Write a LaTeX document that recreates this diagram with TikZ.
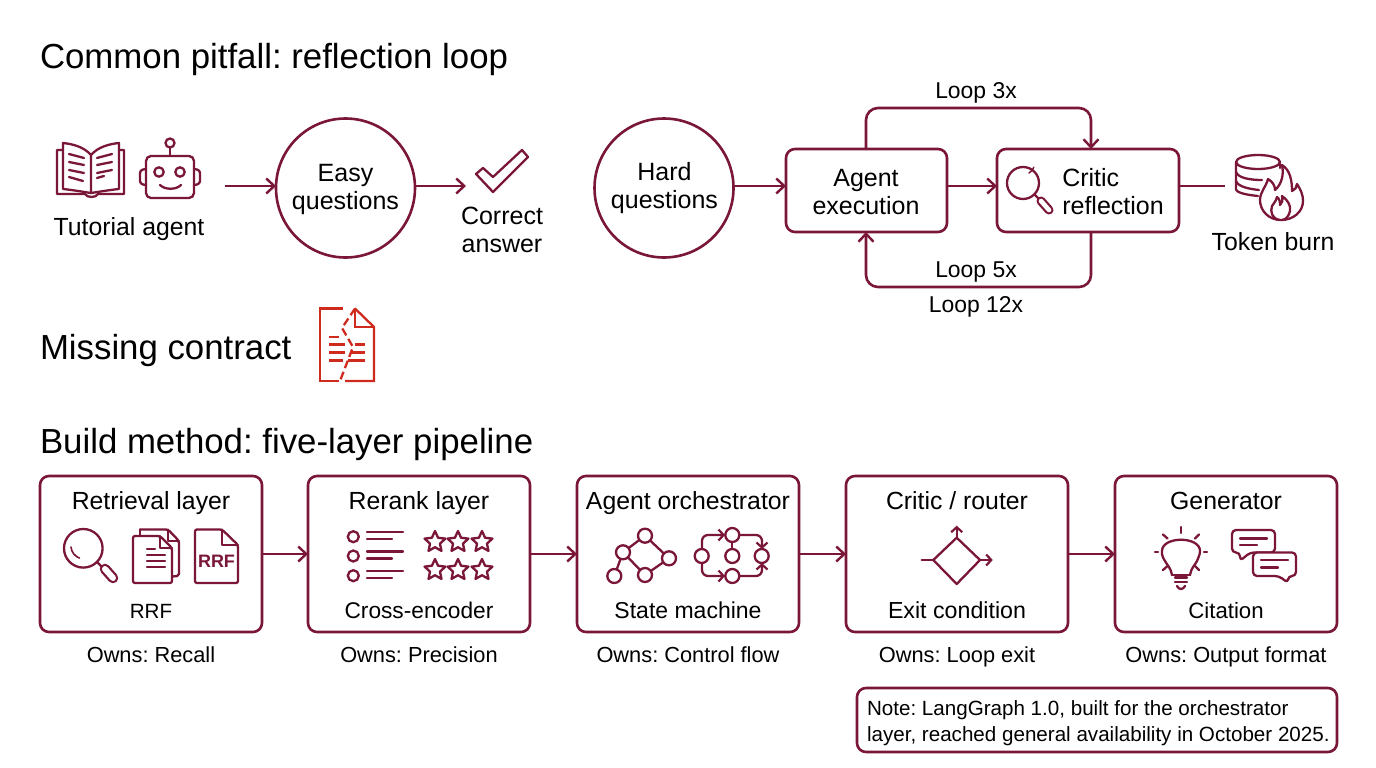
\documentclass[tikz,border=0pt]{standalone}
\usepackage{fontspec}
\setmainfont{Liberation Sans}
\usetikzlibrary{arrows.meta,shapes.geometric}
\definecolor{wine}{HTML}{7A1637}
\definecolor{tear}{HTML}{CF2A1E}
\newcommand{\fsz}[1]{\fontsize{#1}{#1}\selectfont}
\frenchspacing
\tikzset{
  every picture/.style={line join=round},
  ttl/.style={anchor=base west,inner sep=0pt,outer sep=0pt,font=\fsz{34.8}},
  lbl/.style={anchor=base,inner sep=0pt,outer sep=0pt,font=\fsz{24.8},text=black},
  lbltwo/.style={anchor=center,inner sep=0pt,outer sep=0pt,align=center,font=\fsz{25},text=black},
  own/.style={anchor=base,inner sep=0pt,outer sep=0pt,font=\fsz{21.8},text=black},
  circ/.style={circle,draw=wine,line width=2.6pt,minimum size=139pt,inner sep=0pt,outer sep=0pt},
  rbox/.style={rectangle,rounded corners=9pt,draw=wine,line width=2.6pt,inner sep=0pt,outer sep=0pt,anchor=north west},
  conn/.style={draw=wine,line width=2.6pt,-{Straight Barb[length=8pt,width=15pt,line width=2.4pt]}},
  plain/.style={draw=wine,line width=2.6pt},
  ico/.style={draw=wine,line width=2.3pt,line cap=round,line join=round},
  icop/.style={ico,fill=white},
  redi/.style={draw=tear,line width=2.3pt,line cap=butt,line join=miter},
  smallarrow/.style={ico,-{Straight Barb[length=5pt,width=11pt,line width=2.2pt]}},
}
\begin{document}
\begin{tikzpicture}[x=1pt,y=-1pt]
\useasboundingbox (0,0) rectangle (1376,768);
\fill[white] (0,0) rectangle (1376,768);

% titles
\node[ttl] (t1) at (40,68) {Common pitfall: reflection loop};
\node[ttl] (t2) at (40,359) {Missing contract};
\node[ttl] (t3) at (40,453) {Build method: five-layer pipeline};

% top row
\coordinate (tutout) at (225,186);
\node[lbl] (tut) at (129,235) {Tutorial agent};
\node[circ] (easy) at (345.5,188) {};
\node[lbltwo] (easyt) at (345.5,189) {Easy\\[3pt]questions};
\coordinate (chk) at (466,186);
\node[lbltwo] (corr) at (502,230) {Correct\\[3pt]answer};
\node[circ] (hard) at (664,188) {};
\node[lbltwo] (hardt) at (664.5,188) {Hard\\[3pt]questions};
\node[rbox,minimum width=161pt,minimum height=83pt] (agent) at (786,149) {};
\node[lbltwo] (agentt) at (866,192) {Agent\\[3pt]execution};
\node[rbox,minimum width=182pt,minimum height=83pt] (critic) at (997,149) {};
\node[lbltwo,align=left] (critict) at (1113,192) {Critic\\[3pt]reflection};
\coordinate (burn) at (1225,186);
\node[lbl] (tok) at (1273,250) {Token burn};
\node[lbl,font=\fsz{22.9}] (l3) at (976,99) {Loop 3x};
\node[lbl,font=\fsz{22.9}] (l5) at (976,277) {Loop 5x};
\node[lbl,font=\fsz{22.9}] (l12) at (976,312) {Loop 12x};

\draw[conn] (tutout) -- (easy.west |- tutout);
\draw[conn] (easy.east |- chk) -- (chk);
\draw[conn] (hard.east |- burn) -- (agent.west |- burn);
\draw[conn] (agent.east |- burn) -- (critic.west |- burn);
\draw[plain] (critic.east |- burn) -- (burn);
\coordinate (ta) at (866,149); \coordinate (tc) at (1091,149);
\coordinate (ba) at (866,232); \coordinate (bc) at (1091,232);
\draw[conn,rounded corners=12pt] (ta) -- (866,108) -- (1091,108) -- (tc);
\draw[conn,rounded corners=12pt] (bc) -- (1091,287) -- (866,287) -- (ba);

% book
\begin{scope}[ico]
\draw (63,150) -- (57,150) -- (57,194) -- (85,194) .. controls (87,198) and (96,198) .. (98,194) -- (124,194) -- (124,150) -- (119,150);
\draw (91,155) .. controls (84,147) and (73,144) .. (63,143) -- (63,189) .. controls (73,190) and (84,192) .. (91,193) .. controls (98,192) and (109,190) .. (119,189) -- (119,143) .. controls (109,144) and (98,147) .. (91,155) -- (91,193);
\draw (69,154) -- (84,158); \draw (69,162) -- (84,165); \draw (69,170) -- (84,173); \draw (69,177) -- (83,181);
\draw (112,154) -- (97,158); \draw (112,162) -- (97,165); \draw (112,170) -- (97,173); \draw (104,176) -- (97,178);
\draw[rounded corners=5pt] (146,156) rectangle (194,198);
\draw[rounded corners=3pt] (146,169) -- (140,170) -- (140,184) -- (146,185);
\draw[rounded corners=3pt] (194,169) -- (200,170) -- (200,184) -- (194,185);
\draw (170,143) circle (4.5);
\draw (170,147.5) -- (170,156);
\draw (159,172) circle (4.7); \draw (180,172) circle (4.7);
\draw (160,185) .. controls (165,190) and (176,190) .. (181,185);
\end{scope}
% check
\draw[ico] (476,174) -- (483,168) -- (493,177) -- (522,150) -- (528,157) -- (493,192) -- cycle;
% critic magnifier
\draw[ico] (1023,183) circle (16);
\draw[ico,line width=1.5pt] (1029,173) arc[start angle=60,end angle=20,radius=11];
\draw[ico] (1034.5,194.5) -- (1039,199);
\draw[wine,line width=9pt,line cap=round] (1041,201) -- (1049,210);
\draw[white,line width=4.6pt,line cap=round] (1041,201) -- (1049,210);
% database & flame
\begin{scope}[ico]
\draw (1258,162) ellipse (22 and 7);
\draw (1236,162) -- (1236,189) .. controls (1236,193) and (1248,195) .. (1258,196);
\draw (1236,172) .. controls (1238,178) and (1250,180) .. (1262,180);
\draw (1236,181) .. controls (1238,187) and (1250,189) .. (1259,190);
\draw (1280,162) -- (1280,168);
\draw[fill=white] (1281,220) .. controls (1269,220) and (1260,211) .. (1260,200) .. controls (1260,192) and (1266,187) .. (1268,179) .. controls (1273,182) and (1275,186) .. (1275,190) .. controls (1282,184) and (1284,174) .. (1282,165) .. controls (1290,170) and (1292,180) .. (1292,191) .. controls (1295,190) and (1297,187) .. (1297,184) .. controls (1301,190) and (1303,195) .. (1303,201) .. controls (1303,212) and (1293,220) .. (1281,220) -- cycle;
\draw (1279,220) .. controls (1272,218) and (1270,212) .. (1272,206) .. controls (1274,203) and (1276,201) .. (1277,197) .. controls (1280,199) and (1280,203) .. (1280,205) .. controls (1282,203) and (1283,201) .. (1282,196) .. controls (1288,200) and (1291,206) .. (1290,211) .. controls (1289,216) and (1286,219) .. (1283,220);
\end{scope}
% torn document
\begin{scope}[redi]
\draw (343,308.5) -- (320,308.5) -- (320,381) -- (339,381);
\draw (355,308.5) -- (374,327) -- (374,381) -- (345,381);
\draw (355,308.5) -- (355,327) -- (374,327);
\draw[dash pattern=on 8pt off 4pt] (355,308.5) -- (342,328) -- (353,347) -- (340,381);
\draw (329,337) -- (339,337);
\draw (329,344.5) -- (345,344.5); \draw (355,344.5) -- (365,344.5);
\draw (329,352.5) -- (345,352.5); \draw (350,352.5) -- (365,352.5);
\draw (329,360.5) -- (343,360.5); \draw (348,360.5) -- (365,360.5);
\end{scope}

% pipeline
\foreach \n/\x/\a/\b/\c/\s in {
  p1/40/Retrieval layer/RRF/Recall/20.6,
  p2/308/Rerank layer/Cross-encoder/Precision/22.7,
  p3/577/Agent orchestrator/State machine/Control flow/23,
  p4/846/Critic \slash{} router/Exit condition/Loop exit/23.2,
  p5/1115/Generator/Citation/Output format/22.2}{
  \node[rbox,minimum width=222pt,minimum height=156pt] (\n) at (\x,476) {};
  \node[lbl] (\n a) at (\x+111,509) {\a};
  \node[lbl,font=\fsz{\s}] (\n b) at (\x+111,618) {\b};
  \node[own] (\n c) at (\x+111,662) {Owns: \c};
}
\draw[conn] (p1.east) -- (p2.west);
\draw[conn] (p2.east) -- (p3.west);
\draw[conn] (p3.east) -- (p4.west);
\draw[conn] (p4.east) -- (p5.west);

% retrieval icons
\begin{scope}[ico]
\draw (83.3,548.3) circle (19.3);
\draw[line width=1.6pt] (71,547) arc[start angle=175,end angle=110,radius=13];
\draw (97,562) -- (103,568);
\end{scope}
\draw[wine,line width=10.5pt,line cap=round] (105,569) -- (113,578);
\draw[white,line width=6pt,line cap=round] (105,569) -- (113,578);
\begin{scope}[ico]
\draw[rounded corners=2pt] (140,529.5) -- (168,529.5) -- (179,541) -- (179,576) -- (172,576.5);
\draw[icop,rounded corners=2pt] (133,536) -- (160,536) -- (172,548) -- (172,583) -- (133,583) -- cycle;
\draw (140,536) -- (140,529.5);
\draw (160,536) -- (160,548) -- (172,548);
\draw (168,529.5) -- (168,541) -- (179,541);
\draw (147,549) -- (155,549); \draw (147,555) -- (165,555); \draw (147,561) -- (165,561); \draw (147,567) -- (165,567);
\draw[rounded corners=2pt] (195,529.5) -- (222,529.5) -- (238,545) -- (238,583) -- (195,583) -- cycle;
\draw (222,529.5) -- (222,545) -- (238,545);
\end{scope}
\node[inner sep=0pt,text=wine,font=\fsz{18}\bfseries] (rrf) at (216.5,561.5) {RRF};

% rerank icons
\begin{scope}[ico]
\foreach \y in {536.7,556,575.7}{
  \draw (353.3,\y) circle (5.5);
  \draw (367,\y-4.5) -- (403,\y-4.5);
  \draw (367,\y+2.5) -- (392,\y+2.5);
}
\foreach \y in {542,570}{\foreach \x in {435,458,482}{
  \node[star,star points=5,star point ratio=2.1,draw=wine,line width=2.3pt,minimum size=22pt,inner sep=0pt] at (\x,\y) {};
}}
\end{scope}

% orchestrator icons
\begin{scope}[ico]
\draw (645,535.7) -- (623,552.3);
\draw (623,552.3) -- (645,575);
\draw (645,535.7) -- (669,558.3);
\draw (669,558.3) -- (645,575);
\draw (623,552.3) -- (614.3,576);
\foreach \x/\y in {645/535.7,623/552.3,669/558.3,645/575,614.3/576}{\draw[icop] (\x,\y) circle (7);}
\draw[smallarrow,rounded corners=6pt] (702,549) -- (702,535) -- (725,535);
\draw[smallarrow,rounded corners=6pt] (702,563) -- (702,576) -- (725,576);
\draw[smallarrow,rounded corners=6pt] (739,535) -- (762,535) -- (762,549);
\draw[smallarrow,rounded corners=6pt] (739,576) -- (762,576) -- (762,563);
\draw (732,542) -- (732,549);
\foreach \x/\y in {701.7/556,732.3/535,732.3/556,732.3/576,761.7/556}{\draw[icop] (\x,\y) circle (7);}
\end{scope}

% router icon
\begin{scope}[ico]
\draw (956.7,537.7) -- (980,560) -- (956.7,584) -- (933.3,560) -- cycle;
\draw (921.7,560) -- (933.3,560);
\draw[smallarrow] (980,560) -- (992.7,560);
\draw[smallarrow] (956.7,537.7) -- (956.7,525.7);
\end{scope}

% generator icons
\begin{scope}[ico]
\draw (1172,575) .. controls (1171,568) and (1167,565) .. (1165,561) .. controls (1161,555) and (1162,552) .. (1162,551) .. controls (1162,536) and (1200,536) .. (1200,551) .. controls (1200,555) and (1198,558) .. (1197,561) .. controls (1195,565) and (1191,568) .. (1190,575);
\draw (1172,575) -- (1190,575);
\draw (1175,577.5) -- (1187,577.5);
\draw (1175,582) -- (1187,582);
\draw (1177,586) .. controls (1179,590) and (1183,590) .. (1185,586);
\draw (1181,527) -- (1181,533);
\draw (1163,534.5) -- (1167.5,538.5); \draw (1199,534.5) -- (1195,538.5);
\draw (1155,552) -- (1158,552); \draw (1204,552) -- (1207,552);
\draw (1163,570) -- (1167.5,566); \draw (1199,570) -- (1195,566);
\draw[rounded corners=4pt] (1232,552.5) -- (1232,530) -- (1275,530) -- (1275,552.5) -- (1250,552.5) -- (1240,561) -- (1240,552.5) -- cycle;
\draw (1240,538.5) -- (1267,538.5); \draw (1240,545) -- (1257,545);
\draw[icop,rounded corners=4pt] (1253,552.5) -- (1296,552.5) -- (1296,576) -- (1288,576) -- (1288,583) -- (1279,576) -- (1253,576) -- cycle;
\draw (1261,560) -- (1288,560); \draw (1261,567.5) -- (1278,567.5);
\end{scope}

% note
\node[rbox,minimum width=480pt,minimum height=64pt] (note) at (857,688) {};
\node[own,anchor=base west,font=\fsz{20.6}] (n1) at (867,715) {Note: LangGraph 1.0, built for the orchestrator};
\node[own,anchor=base west,font=\fsz{20.6}] (n2) at (867,741) {layer, reached general availability in October 2025.};
\end{tikzpicture}
\end{document}
